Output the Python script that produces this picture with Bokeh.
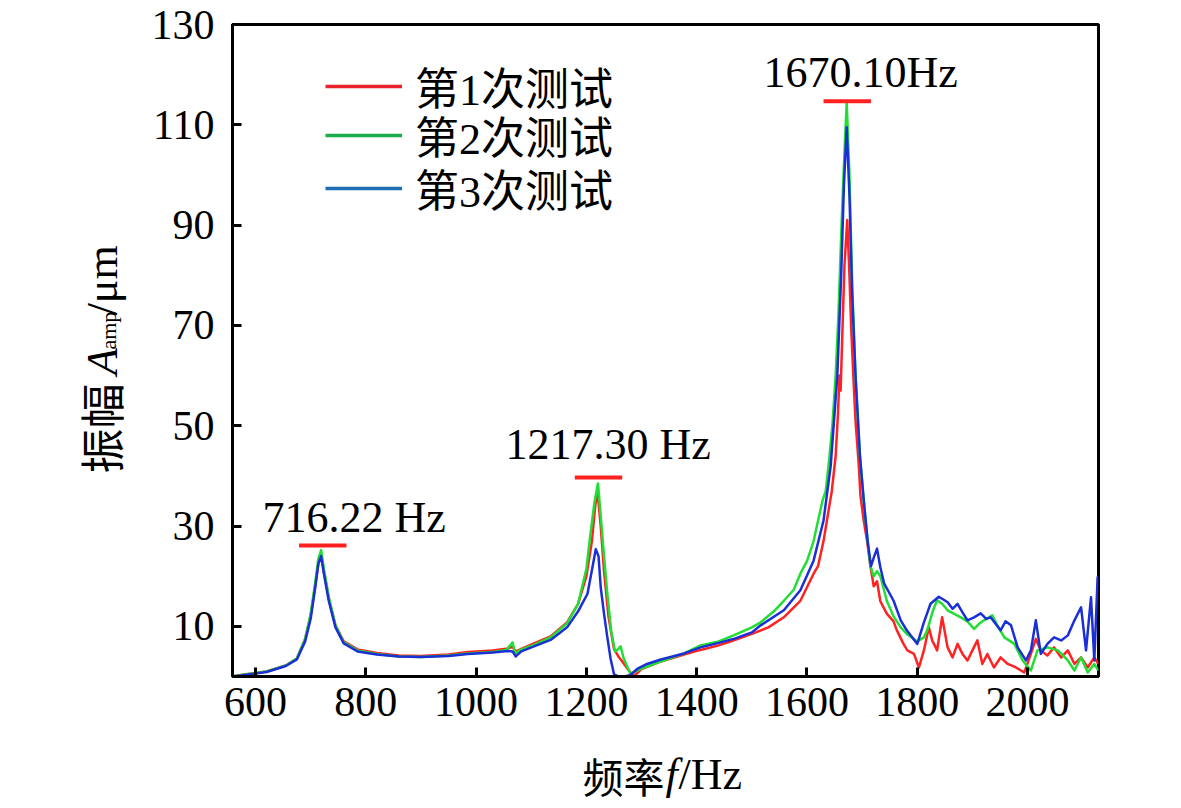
import math
from bokeh.plotting import figure
from bokeh.layouts import column, row
from bokeh.models import Range1d, FixedTicker, Legend, LegendItem
from bokeh.core.properties import value
from bokeh.embed import file_html
from bokeh.resources import INLINE

# ---------------- data ----------------
x_ticks = [600, 800, 1000, 1200, 1400, 1600, 1800, 2000]
y_ticks = [10, 30, 50, 70, 90, 110, 130]
series_names = ["第1次测试", "第2次测试", "第3次测试"]

test1 = [(558, 0), (580, 0.4), (620, 1.0), (655, 2.2), (675, 3.6), (690, 7.5), (700, 12), (708, 18),
         (714, 22.5), (719, 24.2), (724, 21), (733, 15.5), (745, 10.2), (760, 7.0), (785, 5.4), (820, 4.7),
         (860, 4.2), (900, 4.1), (950, 4.4), (985, 4.9), (1030, 5.2), (1058, 5.6), (1066, 5.9), (1072, 5.0),
         (1082, 5.5), (1105, 6.6), (1135, 8.0), (1165, 10.8), (1185, 14.5), (1200, 20), (1210, 27), (1216, 34),
         (1220, 37), (1226, 30), (1232, 21), (1240, 12), (1250, 5.5), (1258, 4.0), (1265, 3.0), (1275, 1.5),
         (1286, 0), (1300, 1.5), (1335, 3.0), (1377, 4.4), (1407, 5.3), (1440, 6.2), (1470, 7.3), (1500, 8.5),
         (1530, 9.8), (1558, 11.8), (1588, 15.1), (1612, 20.5), (1620, 22), (1630, 27), (1636, 31), (1645, 37),
         (1652, 44), (1656, 52), (1659, 60), (1661, 57), (1664, 68), (1668, 82), (1673, 91), (1677, 80),
         (1680, 70), (1684, 60), (1688, 51), (1694, 42), (1697, 36), (1703, 31), (1709, 27), (1715, 22),
         (1721, 18), (1727, 19), (1733, 15), (1745, 12.5), (1757, 11), (1763, 9.2), (1775, 6.5), (1782, 5.2),
         (1794, 4.5), (1803, 1.8), (1812, 5.2), (1821, 9.8), (1827, 7.2), (1836, 5.2), (1845, 11.8), (1855, 5.8),
         (1864, 3.8), (1873, 6.5), (1882, 4.5), (1891, 3.2), (1900, 5.2), (1909, 7.2), (1918, 2.5), (1927, 4.5),
         (1939, 1.8), (1951, 3.8), (1964, 2.5), (1979, 1.8), (1994, 0.8), (2006, 4.5), (2015, 7.5), (2024, 5.2),
         (2036, 4.2), (2048, 5.8), (2061, 3.8), (2073, 5.2), (2085, 2.5), (2097, 3.8), (2109, 1.8), (2121, 3.8),
         (2128, 2.5)]

test2 = [(558, 0), (580, 0.4), (620, 1.0), (655, 2.2), (675, 3.6), (690, 7.5), (700, 12.5), (708, 18.5),
         (714, 23.5), (719, 25.2), (724, 21.5), (733, 15.8), (745, 10.2), (760, 6.8), (785, 5.2), (820, 4.5),
         (860, 4.0), (900, 3.9), (950, 4.2), (985, 4.6), (1030, 4.9), (1055, 5.3), (1062, 6.2), (1066, 6.8),
         (1071, 4.6), (1080, 5.3), (1105, 6.3), (1135, 7.8), (1165, 10.6), (1185, 14.5), (1200, 21.5),
         (1208, 29), (1215, 35), (1221, 38.5), (1226, 32), (1232, 24), (1238, 16.5), (1245, 9), (1252, 5.0),
         (1258, 5.5), (1262, 6.0), (1268, 3.5), (1280, 0.5), (1300, 1.6), (1335, 3.0), (1377, 4.6), (1407, 6.2),
         (1440, 7.0), (1467, 8.2), (1500, 9.8), (1516, 10.8), (1540, 13), (1558, 15.1), (1576, 17.3),
         (1588, 20.5), (1600, 23), (1612, 27), (1622, 32), (1628, 35), (1634, 37), (1640, 43), (1646, 50),
         (1652, 60), (1657, 72), (1662, 88), (1667, 102), (1672, 114.5), (1677, 100), (1682, 78), (1688, 60),
         (1696, 44), (1703, 35), (1710, 27), (1715, 22), (1721, 20), (1727, 21), (1733, 20), (1745, 15),
         (1757, 12), (1770, 9.8), (1781, 8.5), (1800, 7), (1812, 7.8), (1818, 9.2), (1828, 13), (1836, 15.2),
         (1845, 14.5), (1855, 13.2), (1867, 12.5), (1879, 11.8), (1891, 11), (1903, 9.5), (1912, 10.5),
         (1921, 11.2), (1936, 12.2), (1946, 10), (1958, 7.8), (1976, 6.5), (1991, 3.2), (2006, 1.2),
         (2018, 5.2), (2036, 5.8), (2055, 5.2), (2073, 3.2), (2085, 1.2), (2097, 3.8), (2109, 0.8),
         (2121, 2.5), (2128, 1.2)]

test3 = [(558, 0), (580, 0.3), (620, 0.9), (655, 2.1), (675, 3.4), (690, 7), (700, 11.5), (708, 17.5),
         (714, 22.5), (719, 24.0), (724, 20.5), (733, 15), (745, 9.8), (760, 6.6), (785, 5.0), (820, 4.4),
         (860, 4.0), (900, 3.9), (950, 4.1), (985, 4.5), (1030, 4.8), (1058, 5.1), (1066, 5.0), (1072, 4.0),
         (1082, 5.0), (1105, 6.0), (1135, 7.3), (1165, 9.8), (1185, 13), (1202, 16.5), (1211, 21.8),
         (1217, 25.4), (1222, 24), (1226, 17.8), (1232, 12.5), (1238, 7.8), (1244, 3.5), (1250, 0.5),
         (1258, 0), (1270, 0), (1280, 0.3), (1292, 1.5), (1310, 2.5), (1335, 3.4), (1377, 4.6), (1407, 5.8),
         (1440, 6.7), (1470, 7.6), (1500, 8.8), (1516, 10.2), (1558, 13.2), (1588, 17.2), (1612, 23.1),
         (1630, 31.1), (1643, 42), (1655, 60), (1662, 80), (1667, 98), (1672, 109.5), (1677, 96), (1682, 76),
         (1688, 60), (1696, 44), (1703, 35), (1710, 27), (1716, 22), (1722, 24), (1727, 25.5), (1733, 21.8),
         (1740, 18.5), (1757, 15.1), (1770, 11.2), (1781, 9.2), (1800, 6.5), (1812, 10.8), (1824, 14.5),
         (1839, 15.9), (1848, 15.3), (1855, 14.8), (1864, 13.5), (1873, 14.5), (1882, 12.8), (1891, 11.2),
         (1903, 11.8), (1915, 12.6), (1925, 11.5), (1933, 11.8), (1942, 10.5), (1951, 9.2), (1960, 11.0),
         (1970, 10.2), (1982, 5.8), (1997, 3.2), (2006, 5.2), (2015, 11.2), (2024, 4.5), (2036, 6.5),
         (2048, 7.8), (2061, 7.2), (2073, 8.2), (2085, 11.2), (2097, 13.8), (2106, 5.2), (2115, 15.8),
         (2121, 3.2), (2127, 19.8), (2128, 19.8)]

peak_labels = ["716.22 Hz", "1217.30 Hz", "1670.10Hz"]
peak_marker_center = [722, 1222, 1673]
peak_marker_level = [26.1, 39.7, 114.7]

# ---------------- layout / style ----------------
X0, X1 = 558.3, 2128.6
Y0, Y1 = 0, 130
FW, FH = 866, 652
TOTAL_W, TOTAL_H = 1175, 805
YLAB_W = 148
MAIN_BL, MAIN_BT, MAIN_BB = 84, 24, 66
MAIN_W = TOTAL_W - YLAB_W
MAIN_H = MAIN_BT + FH + MAIN_BB
XLAB_H = TOTAL_H - MAIN_H
PAGE_L, PAGE_T = YLAB_W + MAIN_BL, MAIN_BT
DROP = 16   # Bokeh draws alphabetic-baseline text this much below its anchor

def px2x(px):
    return X0 + (px - PAGE_L) / FW * (X1 - X0)

def px2y(py):
    return Y1 - (py - PAGE_T) / FH * (Y1 - Y0)

curve_colors = ["#ff2222", "#22dd33", "#1a2fd6"]
legend_colors = ["#e8242a", "#1bab4b", "#1f6db2"]
SERIF = "Liberation Serif"
CJK = "Noto Sans CJK SC"

p = figure(frame_width=FW, frame_height=FH, x_range=Range1d(X0, X1), y_range=Range1d(Y0, Y1),
           output_backend="svg", toolbar_location=None,
           min_border_left=MAIN_BL, min_border_right=MAIN_W - MAIN_BL - FW,
           min_border_top=MAIN_BT, min_border_bottom=MAIN_BB)
p.xgrid.visible = False
p.ygrid.visible = False
p.outline_line_color = "black"
p.outline_line_width = 3
p.background_fill_color = "white"

for ax in (p.xaxis[0], p.yaxis[0]):
    ax.axis_line_width = 3
    ax.axis_line_color = "black"
    ax.major_tick_in = 9
    ax.major_tick_out = 0
    ax.major_tick_line_width = 3
    ax.minor_tick_line_color = None
    ax.major_label_text_font = SERIF
    ax.major_label_text_font_size = "42px"
    ax.major_label_text_color = "black"
    ax.axis_label = None
p.xaxis.ticker = FixedTicker(ticks=x_ticks)
p.yaxis.ticker = FixedTicker(ticks=y_ticks)
p.xaxis.major_label_standoff = 11
p.yaxis.major_label_standoff = 18

# curves
series = [test1, test2, test3]
for pts, col in zip(series, curve_colors):
    p.line([a for a, b in pts], [b for a, b in pts], line_color=col, line_width=2.5, line_join="round")

# legend: one single-item legend per row so the row pitch matches
legend_rows_y = [558, 509, 456]   # bottom of each row, px above frame bottom
for name, pts, col, ly in zip(series_names, series, legend_colors, legend_rows_y):
    r = p.line([a for a, b in pts], [b for a, b in pts], line_color=col, line_width=3.5, visible=False)
    lg = Legend(items=[LegendItem(label=name, renderers=[r])], location=(93, ly), glyph_width=77,
                glyph_height=20, label_height=20, label_standoff=13, spacing=0, padding=0, margin=0,
                label_text_font=f"{SERIF}, {CJK}", label_text_font_size="44px", label_text_color="black",
                border_line_color=None, background_fill_alpha=0, inactive_fill_alpha=0)
    p.add_layout(lg)

# peak markers and labels
half = 43
p.segment(x0=[c - half for c in peak_marker_center], x1=[c + half for c in peak_marker_center],
          y0=peak_marker_level, y1=peak_marker_level, line_color="#ff2020", line_width=4)
label_px = [(262, 533), (505, 460), (763, 88)]
p.text(x=[px2x(a) for a, b in label_px], y=[px2y(b - DROP) for a, b in label_px], text=peak_labels,
       text_font=value(SERIF), text_font_size="44px", text_align="left", text_baseline="alphabetic",
       text_color="black")

# ---------------- axis titles (own strips so nothing is clipped) ----------------
def strip(w, h):
    f = figure(width=w, height=h, x_range=Range1d(0, w), y_range=Range1d(0, h),
               output_backend="svg", toolbar_location=None, min_border=0,
               x_axis_location=None, y_axis_location=None)
    f.outline_line_color = None
    f.grid.visible = False
    return f

ylab = strip(YLAB_W, MAIN_H)
for txt, py, bx, font, style, size in [("振幅", 511, 100, CJK, "normal", "45px"),
                                        ("A", 399, 102, SERIF, "italic", "44px"),
                                        ("amp", 370, 108, SERIF, "normal", "22px"),
                                        ("/μm", 331, 102, SERIF, "normal", "44px")]:
    ylab.text(x=[bx], y=[MAIN_H - py], text=[txt], angle=math.pi / 2, text_font=value(font),
              text_font_style=style, text_font_size=size, text_align="left",
              text_baseline="alphabetic", text_color="black")

xlab = strip(TOTAL_W, XLAB_H)
XB = 790
for txt, px, font, style, size in [("频率", 582, CJK, "normal", "41px"),
                                    ("f", 665, SERIF, "italic", "44px"),
                                    ("/Hz", 678, SERIF, "normal", "44px")]:
    xlab.text(x=[px], y=[TOTAL_H - (XB - DROP)], text=[txt], text_font=value(font),
              text_font_style=style, text_font_size=size, text_align="left",
              text_baseline="alphabetic", text_color="black")

layout = column(row(ylab, p, spacing=0), xlab, spacing=0)
open("out.html", "w").write(file_html(layout, INLINE))
